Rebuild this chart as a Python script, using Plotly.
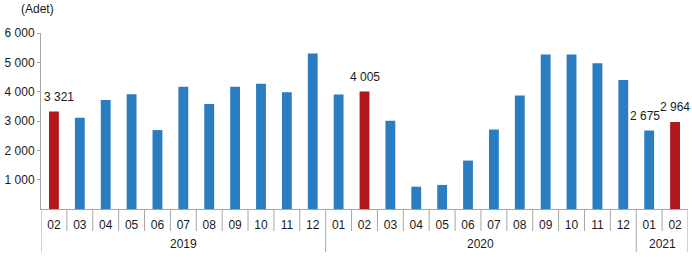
import plotly.graph_objects as go

years = ["2019"] * 11 + ["2020"] * 12 + ["2021"] * 2
months = ["02", "03", "04", "05", "06", "07", "08", "09", "10", "11", "12",
          "01", "02", "03", "04", "05", "06", "07", "08", "09", "10", "11", "12",
          "01", "02"]
values = [3321, 3110, 3720, 3910, 2690, 4170, 3580, 4170, 4270, 3980, 5300,
          3900, 4005, 3010, 760, 820, 1650, 2710, 3870, 5270, 5270, 4970, 4400,
          2675, 2964]
highlight = [True] + [False] * 10 + [False, True] + [False] * 10 + [False, True]
labelled = [True] + [False] * 10 + [False, True] + [False] * 10 + [True, True]

y_ticks = [1000, 2000, 3000, 4000, 5000, 6000]

BLUE = "#2a7dc1"
RED = "#b1181b"
GRAY = "#a6a6a6"
TXT = "#1a1a1a"
FONT = "Liberation Sans, Arial, sans-serif"

W, H = 692, 257
M = dict(l=41, r=4, t=33, b=48)
plot_h = H - M["t"] - M["b"]

idx = list(range(len(values)))
colors = [RED if h else BLUE for h in highlight]

fig = go.Figure()
fig.add_trace(go.Bar(x=idx, y=values, marker=dict(color=colors, line=dict(width=0)),
                     showlegend=False, hoverinfo="skip"))

shapes = []
annotations = []
short = -22 / plot_h
long_ = -43 / plot_h
for i in range(len(values) + 1):
    is_year = i == 0 or i == len(values) or years[i] != years[i - 1]
    shapes.append(dict(type="line", xref="x", yref="paper", x0=i - 0.5, x1=i - 0.5,
                       y0=0, y1=long_ if is_year else short,
                       line=dict(color=GRAY, width=1)))

groups = []
for i, y in enumerate(years):
    if not groups or groups[-1][0] != y:
        groups.append([y, i, i])
    else:
        groups[-1][2] = i
for y, a, b in groups:
    annotations.append(dict(text=y, xref="x", yref="paper", x=(a + b) / 2, y=-35 / plot_h,
                            xanchor="center", yanchor="middle", showarrow=False,
                            font=dict(size=12, family=FONT, color=TXT)))

# value labels: first nudged right (clear of the axis), second-to-last nudged left
lab_idx = [i for i, l in zip(idx, labelled) if l]
for k, i in enumerate(lab_idx):
    v = values[i]
    dx = 5 if k == 0 else (-4 if k == len(lab_idx) - 2 else 0)
    annotations.append(dict(text=f"{v:,}".replace(",", " "), xref="x", yref="y",
                            x=i, y=v, xanchor="center", yanchor="middle",
                            yshift=15, xshift=dx, showarrow=False,
                            font=dict(size=12, family=FONT, color=TXT)))

annotations.append(dict(text="(Adet)", xref="paper", yref="paper", x=-0.006, y=1.0,
                        yshift=24, xanchor="center", yanchor="middle", showarrow=False,
                        font=dict(size=12, family=FONT, color=TXT)))

fig.update_layout(
    width=W, height=H,
    margin=M,
    paper_bgcolor="white", plot_bgcolor="white",
    bargap=0.62,
    separators=", ",
    font=dict(family=FONT, size=12, color=TXT),
    xaxis=dict(range=[-0.5, len(values) - 0.5], tickvals=idx, ticktext=months,
               showline=True, linecolor=GRAY, linewidth=1,
               ticks="outside", ticklen=5, tickcolor="rgba(0,0,0,0)",
               showgrid=False, zeroline=False, fixedrange=True,
               tickfont=dict(size=12, family=FONT, color=TXT)),
    yaxis=dict(range=[0, 6000], tickvals=y_ticks, tickformat=",d", showline=True,
               linecolor=GRAY, linewidth=1, ticks="outside", ticklen=3, tickcolor=GRAY,
               showgrid=False, zeroline=False, fixedrange=True,
               tickfont=dict(size=12, family=FONT, color=TXT)),
    shapes=shapes,
    annotations=annotations,
)

fig.write_html("out.html")
